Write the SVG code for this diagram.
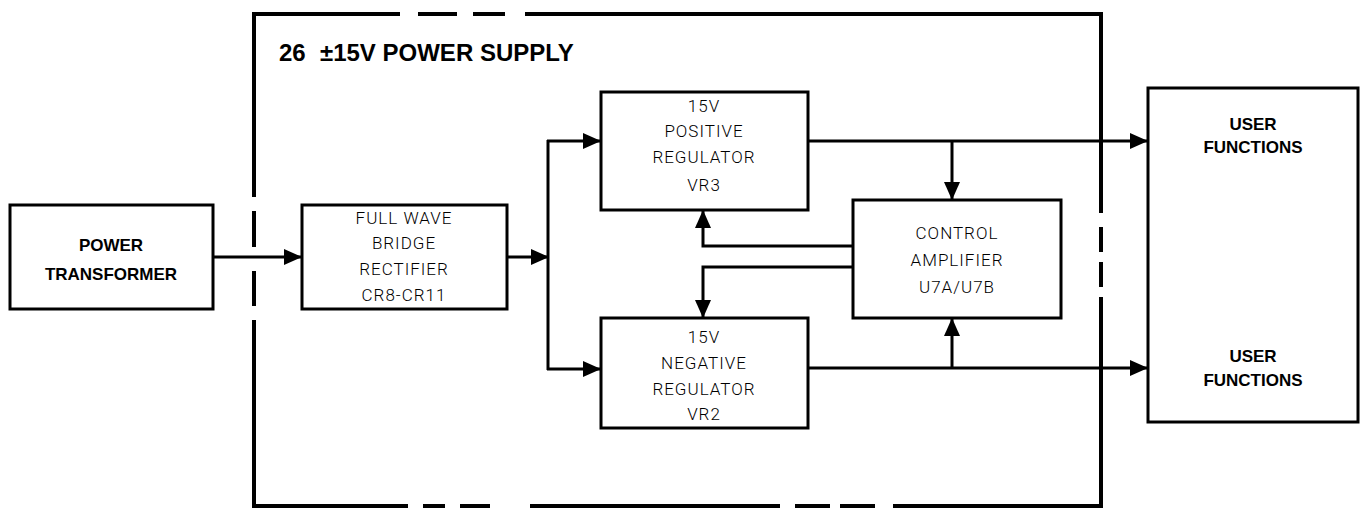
<svg xmlns="http://www.w3.org/2000/svg" width="1367" height="512" viewBox="0 0 1367 512">
<style>
.box{fill:#fff;stroke:#000;stroke-width:3}
.frame{fill:none;stroke:#000;stroke-width:4;stroke-linecap:butt}
.wire{fill:none;stroke:#000;stroke-width:3}
.bold{font-family:"Liberation Sans",Arial,sans-serif;font-weight:bold;font-size:17px;fill:#000;text-anchor:middle}
.light{font-family:Roboto,"Liberation Sans",sans-serif;font-weight:300;font-size:17px;fill:#000;text-anchor:middle;letter-spacing:1px}
.title{font-family:"Liberation Sans",Arial,sans-serif;font-weight:bold;font-size:24px;fill:#000}
</style>
<defs>
<marker id="ah" markerUnits="userSpaceOnUse" markerWidth="18" markerHeight="16" refX="18" refY="8" orient="auto">
<path d="M0,0 L18,8 L0,16 Z" fill="#000"/>
</marker>
</defs>
<rect width="1367" height="512" fill="#fff"/>
<g id="frame">
<path class="frame" d="M254,197 V14 H400 M418,14 H457 M473,14 H505 M525,14 H1101 V213 M1101,227 V252 M1101,262 V287 M1101,297 V506 H893 M875,506 H840 M830,506 H795 M780,506 H530 M490,506 H460 M445,506 H423 M408,506 H254 V320 M254,306 V271 M254,247 V211"/>
<text class="title" x="279" y="61">26<tspan x="320">±15V POWER SUPPLY</tspan></text>
</g>
<g id="connectors">
<line class="wire" x1="213" y1="257" x2="302" y2="257" marker-end="url(#ah)"/>
<line class="wire" x1="507" y1="257" x2="549" y2="257" marker-end="url(#ah)"/>
<line class="wire" x1="548" y1="140" x2="548" y2="370"/>
<line class="wire" x1="547" y1="141" x2="601" y2="141" marker-end="url(#ah)"/>
<line class="wire" x1="547" y1="369" x2="601" y2="369" marker-end="url(#ah)"/>
<line class="wire" x1="808" y1="141" x2="1148" y2="141" marker-end="url(#ah)"/>
<line class="wire" x1="952" y1="141" x2="952" y2="200" marker-end="url(#ah)"/>
<line class="wire" x1="808" y1="368" x2="1148" y2="368" marker-end="url(#ah)"/>
<line class="wire" x1="952" y1="368" x2="952" y2="318" marker-end="url(#ah)"/>
<polyline class="wire" points="853,246 703,246 703,210" marker-end="url(#ah)"/>
<polyline class="wire" points="853,267 703,267 703,318" marker-end="url(#ah)"/>
</g>
<g id="power-transformer">
<rect class="box" x="10" y="205" width="203" height="104"/>
<text class="bold" x="111" y="251">POWER</text>
<text class="bold" x="111" y="280">TRANSFORMER</text>
</g>
<g id="rectifier">
<rect class="box" x="302" y="205" width="205" height="104"/>
<text class="light" x="404" y="224">FULL WAVE</text>
<text class="light" x="404" y="249">BRIDGE</text>
<text class="light" x="404" y="275">RECTIFIER</text>
<text class="light" x="404" y="301">CR8-CR11</text>
</g>
<g id="positive-regulator">
<rect class="box" x="601" y="92" width="207" height="118"/>
<text class="light" x="704" y="112">15V</text>
<text class="light" x="704" y="137">POSITIVE</text>
<text class="light" x="704" y="163">REGULATOR</text>
<text class="light" x="704" y="191">VR3</text>
</g>
<g id="negative-regulator">
<rect class="box" x="601" y="318" width="207" height="110"/>
<text class="light" x="704" y="343">15V</text>
<text class="light" x="704" y="369">NEGATIVE</text>
<text class="light" x="704" y="395">REGULATOR</text>
<text class="light" x="704" y="420">VR2</text>
</g>
<g id="control-amplifier">
<rect class="box" x="853" y="200" width="208" height="118"/>
<text class="light" x="957" y="239">CONTROL</text>
<text class="light" x="957" y="266">AMPLIFIER</text>
<text class="light" x="957" y="293">U7A/U7B</text>
</g>
<g id="user-functions">
<rect class="box" x="1148" y="88" width="210" height="334"/>
<text class="bold" x="1253" y="130">USER</text>
<text class="bold" x="1253" y="153">FUNCTIONS</text>
<text class="bold" x="1253" y="362">USER</text>
<text class="bold" x="1253" y="386">FUNCTIONS</text>
</g>
</svg>
